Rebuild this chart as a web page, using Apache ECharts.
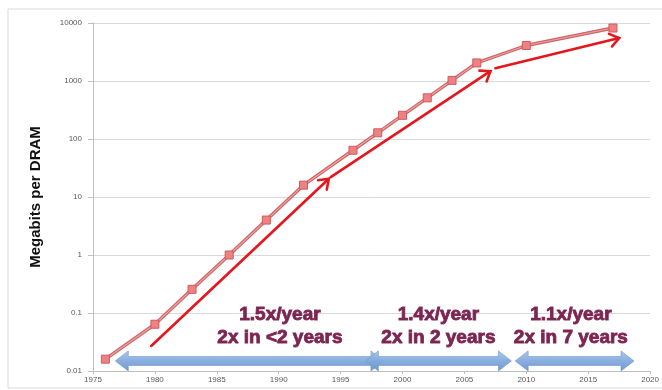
<!DOCTYPE html>
<html>
<head>
<meta charset="utf-8">
<script src="https://cdn.jsdelivr.net/npm/echarts@6/dist/echarts.min.js"></script>
<style>
  html, body { margin: 0; padding: 0; background: #ffffff; }
  #chart { width: 662px; height: 390px; }
</style>
</head>
<body>
<div id="chart"></div>
<script>
// DRAM capacity per chip over time (megabits, log scale)
const years = [1976, 1980, 1983, 1986, 1989, 1992, 1996, 1998, 2000, 2002, 2004, 2006, 2010, 2017];
const megabits = [0.016, 0.064, 0.256, 1, 4, 16, 64, 128, 256, 512, 1024, 2048, 4096, 8192];

// Growth-rate trend arrows: [startYear, startValue, endYear, endValue]
const trendArrows = [
  [1979.7, 0.027, 1994.05, 20.6],
  [1994.2, 22, 2007.1, 1480],
  [2007.5, 1660, 2017.5, 5500]
];

// Era spans drawn as double-headed arrows: [fromYear, toYear]
const eraStart = [1976.8, 1997.0, 2009.1];
const eraEnd = [1998.5, 2008.8, 2018.7];
const eraLevel = 0.0149;

// Era labels
const eraRate = ['1.5x/year', '1.4x/year', '1.1x/year'];
const eraDoubling = ['2x in <2 years', '2x in 2 years', '2x in 7 years'];
const eraLabelYear = [1990.1, 2002.9, 2013.6];
const rateLevel = 0.0925;
const doublingLevel = 0.037;

const xTicks = [1975, 1980, 1985, 1990, 1995, 2000, 2005, 2010, 2015, 2020];
const yTicks = ['0.01', '0.1', '1', '10', '100', '1000', '10000'];

const chart = echarts.init(document.getElementById('chart'), null, { renderer: 'canvas' });

function renderTrend(params, api) {
  const p0 = api.coord([api.value(0), api.value(1)]);
  const p1 = api.coord([api.value(2), api.value(3)]);
  const ang = Math.atan2(p1[1] - p0[1], p1[0] - p0[0]);
  const L = 11, spread = Math.PI / 5;
  const h1 = [p1[0] - L * Math.cos(ang - spread), p1[1] - L * Math.sin(ang - spread)];
  const h2 = [p1[0] - L * Math.cos(ang + spread), p1[1] - L * Math.sin(ang + spread)];
  return {
    type: 'group',
    children: [
      { type: 'line', shape: { x1: p0[0], y1: p0[1], x2: p1[0], y2: p1[1] },
        style: { stroke: '#e5161d', lineWidth: 2.6, lineCap: 'round' } },
      { type: 'polyline', shape: { points: [h1, p1, h2] },
        style: { stroke: '#e5161d', lineWidth: 2.6, fill: null, lineJoin: 'miter', lineCap: 'round' } }
    ]
  };
}

function renderEra(params, api) {
  const a = api.coord([api.value(0), api.value(2)]);
  const b = api.coord([api.value(1), api.value(2)]);
  const l = a[0], r = b[0], c = a[1];
  const hl = 13, hh = 10, bh = 4.5;
  return {
    type: 'polygon',
    shape: { points: [
      [l, c], [l + hl, c - hh], [l + hl, c - bh], [r - hl, c - bh], [r - hl, c - hh],
      [r, c], [r - hl, c + hh], [r - hl, c + bh], [l + hl, c + bh], [l + hl, c + hh]
    ] },
    style: {
      fill: new echarts.graphic.LinearGradient(0, 0, 0, 1, [
        { offset: 0, color: '#a8c6ec' },
        { offset: 0.5, color: '#82aadd' },
        { offset: 1, color: '#6a95cf' }
      ]),
      stroke: '#6b93c9',
      lineWidth: 0.6,
      opacity: 0.95
    }
  };
}

function renderLabel(params, api) {
  const i = params.dataIndex;
  const top = api.coord([api.value(0), api.value(1)]);
  const bottom = api.coord([api.value(0), api.value(2)]);
  const style = {
    fill: '#7a2651',
    font: 'bold 19px "Liberation Sans", Arial, sans-serif',
    align: 'center',
    verticalAlign: 'middle',
    stroke: '#86305c',
    lineWidth: 0.9,
    shadowColor: 'rgba(120,120,150,0.5)',
    shadowBlur: 1.5
  };
  return {
    type: 'group',
    children: [
      { type: 'text', style: Object.assign({ x: top[0], y: top[1], text: eraRate[i] }, style) },
      { type: 'text', style: Object.assign({ x: bottom[0], y: bottom[1], text: eraDoubling[i] }, style) }
    ]
  };
}

const labelFont = { fontFamily: '"Liberation Sans", Arial, sans-serif', fontSize: 8, color: '#595959' };

chart.setOption({
  animation: false,
  backgroundColor: '#ffffff',
  graphic: [{
    type: 'rect',
    shape: { x: 8, y: 9, width: 670, height: 379 },
    style: { fill: null, stroke: '#d9d9d9', lineWidth: 1 },
    z: -1
  }],
  grid: { left: 93, right: 9, top: 23, bottom: 19 },
  xAxis: {
    type: 'value',
    min: 1975,
    max: 2020,
    interval: 5,
    axisLine: { show: true, lineStyle: { color: '#bfbfbf', width: 1 } },
    axisTick: { show: true, length: 3, lineStyle: { color: '#bfbfbf' } },
    splitLine: { show: false },
    axisLabel: Object.assign({ margin: 5, formatter: v => xTicks.includes(v) ? String(v) : '' }, labelFont)
  },
  yAxis: {
    type: 'log',
    logBase: 10,
    min: 0.01,
    max: 10000,
    name: 'Megabits per DRAM',
    nameLocation: 'middle',
    nameRotate: 90,
    nameGap: 50,
    nameTextStyle: { fontFamily: '"Liberation Sans", Arial, sans-serif', fontSize: 15, fontWeight: 'bold', color: '#111111' },
    axisLine: { show: true, lineStyle: { color: '#bfbfbf', width: 1 } },
    axisTick: { show: true, length: 5, lineStyle: { color: '#bfbfbf' } },
    splitLine: { show: true, lineStyle: { color: '#d9d9d9', width: 1 } },
    axisLabel: Object.assign({
      margin: 11,
      formatter: v => {
        const s = yTicks.find(t => Math.abs(parseFloat(t) - v) < v * 1e-6);
        return s || '';
      }
    }, labelFont)
  },
  series: [
    {
      type: 'line',
      data: years.map((y, i) => [y, megabits[i]]),
      lineStyle: { color: '#cf6466', width: 3.4 },
      itemStyle: { color: '#ec8284', borderColor: '#d25a5d', borderWidth: 1 },
      symbol: 'rect',
      symbolSize: 8,
      z: 3
    },
    {
      type: 'line',
      data: years.map((y, i) => [y, megabits[i]]),
      lineStyle: { color: '#eca0a0', width: 1.2 },
      symbol: 'none',
      silent: true,
      z: 3
    },
    {
      type: 'custom',
      renderItem: renderTrend,
      data: trendArrows,
      encode: { x: [0, 2], y: [1, 3] },
      silent: true,
      z: 4
    },
    {
      type: 'custom',
      renderItem: renderEra,
      data: eraStart.map((s, i) => [s, eraEnd[i], eraLevel]),
      encode: { x: [0, 1], y: 2 },
      silent: true,
      z: 5
    },
    {
      type: 'custom',
      renderItem: renderLabel,
      data: eraLabelYear.map(x => [x, rateLevel, doublingLevel]),
      encode: { x: 0, y: [1, 2] },
      silent: true,
      z: 6
    }
  ]
});
</script>
</body>
</html>
